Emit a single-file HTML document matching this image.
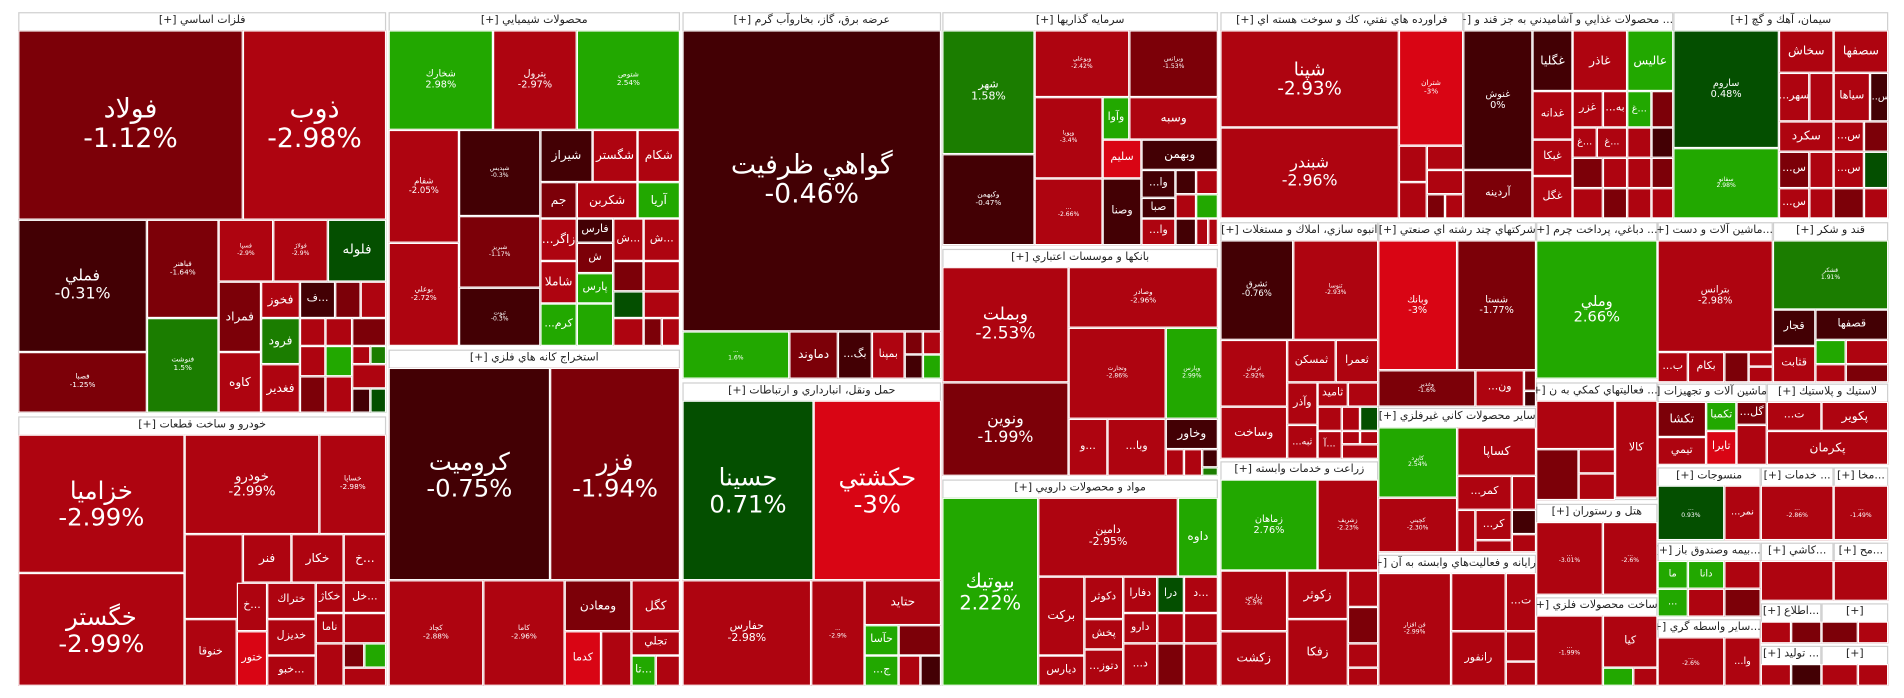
<!DOCTYPE html>
<html><head><meta charset="utf-8">
<style>
html,body{margin:0;padding:0;background:#fff;overflow:hidden;width:1904px;height:698px}
#wrap{position:absolute;left:0;top:0;width:1568px;height:575px;transform:scale(1.2143,1.2139);transform-origin:0 0}
.s{position:absolute;background:#fff;border:1px solid #cfcfcf;box-sizing:border-box}
.h{position:absolute;font:9px "DejaVu Sans",sans-serif;color:#222;text-align:center;direction:rtl;white-space:nowrap;overflow:hidden;line-height:15px}
.t{position:absolute;box-sizing:border-box;border:1px solid #fff;color:#fff;display:flex;align-items:center;justify-content:center;text-align:center;font-family:"DejaVu Sans",sans-serif;overflow:hidden;line-height:1.1;white-space:nowrap}
</style></head><body><div id="wrap"></div>
<script>
var C={R:'#ae0410',D:'#7c0008',K:'#430004',B:'#d90514',G:'#22a800',M:'#1b7d00',E:'#044f00'};
var S=[
[15,10,318,340,'فلزات اساسي [+]'],[15,343,318,565,'خودرو و ساخت قطعات [+]'],
[320,10,560,285,'محصولات شيميايي [+]'],[320,288,560,565,'استخراج كانه هاي فلزي [+]'],
[562,10,775,312,'عرضه برق، گاز، بخاروآب گرم [+]'],[562,315,775,565,'حمل ونقل، انبارداري و ارتباطات [+]'],
[776,10,1003,202,'سرمايه گذاريها [+]'],[776,205,1003,392,'بانكها و موسسات اعتباري [+]'],
[776,395,1003,565,'مواد و محصولات دارويي [+]'],[1005,10,1205,180,'فراورده هاي نفتي، كك و سوخت هسته اي [+]'],
[1205,10,1378,180,'... محصولات غذايي و آشاميدني به جز قند و [+]'],[1378,10,1555,180,'سيمان، آهك و گچ [+]'],
[1005,183,1135,378,'انبوه سازي، املاك و مستغلات [+]'],[1005,380,1135,565,'زراعت و خدمات وابسته [+]'],
[1135,183,1265,335,'شركتهاي چند رشته اي صنعتي [+]'],[1135,336,1265,455,'ساير محصولات كاني غيرفلزي [+]'],
[1135,457,1265,565,'رايانه و فعاليت‌هاي وابسته به آن [+]'],[1265,183,1365,312,'... دباغي، پرداخت چرم [+]'],
[1365,183,1460,315,'...ماشين آلات و دست [+]'],[1460,183,1555,315,'قند و شكر [+]'],
[1265,315,1365,412,'... فعاليتهاي كمكي به ن [+]'],[1265,415,1365,490,'هتل و رستوران [+]'],
[1265,492,1365,565,'ساخت محصولات فلزي [+]'],[1365,316,1455,383,'ماشين آلات و تجهيزات [+]'],
[1455,316,1555,383,'لاستيك و پلاستيك [+]'],[1365,385,1450,445,'منسوجات [+]'],
[1450,385,1510,445,'... خدمات [+]'],[1510,385,1555,445,'...مخا [+]'],
[1365,447,1450,508,'...بيمه وصندوق باز [+]'],[1450,447,1510,495,'...كاشي [+]'],
[1510,447,1555,495,'...مح [+]'],[1450,497,1500,530,'...اطلاع [+]'],
[1365,510,1450,565,'...ساير واسطه گري [+]'],[1450,532,1500,565,'... توليد [+]'],
[1500,497,1555,530,'[+]'],[1500,532,1555,565,'[+]']
];
var T=[
[15,25,200,181,'D','فولاد\n-1.12%',22],[200,25,318,181,'R','ذوب\n-2.98%',22],
[15,181,121,290,'K','فملي\n-0.31%',13],[15,290,121,340,'D','فصبا\n-1.25%',6],
[121,181,180,262,'D','فباهنر\n-1.64%',6],[121,262,180,340,'M','فنوشت\n1.5%',6],
[180,181,225,232,'R','فسپا\n-2.9%',5],[225,181,270,232,'R','فولاژ\n-2.9%',5],[270,181,318,232,'E','فلوله',11],
[180,232,215,290,'D','فمراد',10],[215,232,247,262,'R','فخوز',10],[247,232,276,262,'K','ف...',9],[276,232,297,262,'D',''],[297,232,318,262,'R',''],
[180,290,215,340,'R','كاوه',10],[215,262,247,300,'M','فرود',10],[215,300,247,340,'R','فغدير',10],
[247,262,268,285,'R',''],[268,262,290,285,'R',''],[290,262,318,285,'D',''],[247,285,268,310,'R',''],[268,285,290,310,'G',''],[290,285,305,300,'R',''],[305,285,318,300,'M',''],[290,300,318,320,'R',''],[247,310,268,340,'D',''],[268,310,290,340,'R',''],[290,320,305,340,'K',''],[305,320,318,340,'E',''],
[15,358,152,472,'R','خزاميا\n-2.99%',20],[15,472,152,565,'R','خگستر\n-2.99%',20],
[152,358,263,440,'R','خودرو\n-2.99%',11],[263,358,318,440,'R','خساپا\n-2.98%',6],
[152,440,200,510,'R',''],[200,440,240,480,'R','فنر',10],[240,440,283,480,'R','خكار',10],[283,440,318,480,'R','خ...',10],
[152,510,195,565,'R','خنوقا',9],[195,480,220,520,'R','خ...',9],[220,480,260,510,'R','ختراك',9],[260,480,283,505,'R','خكاژ',9],[283,480,318,505,'R','خل...',9],
[220,510,260,540,'R','خديزل',9],[260,505,283,530,'R','ناما',9],[283,505,318,530,'R',''],[220,540,260,565,'R','خبو...',9],[195,520,220,565,'B','ختور',9],[260,530,283,565,'R',''],[283,530,300,550,'D',''],[300,530,318,550,'G',''],[283,550,318,565,'R',''],
[320,25,406,107,'G','شخارك\n2.98%',8],[406,25,475,107,'R','پترول\n-2.97%',8],[475,25,560,107,'G','شتوص\n2.54%',6],
[320,107,378,200,'R','شفام\n-2.05%',7],[320,200,378,285,'R','بوعلي\n-2.72%',6],
[378,107,445,178,'K','شپديس\n-0.3%',5],[378,178,445,237,'D','شبريز\n-1.17%',5],[378,237,445,285,'K','ثبوت\n-0.3%',5],
[445,107,488,150,'K','شيراز',10],[488,107,525,150,'R','شگستر',10],[525,107,560,150,'R','شكام',10],
[445,150,475,180,'D','جم',10],[475,150,525,180,'R','شكربن',10],[525,150,560,180,'G','آريا',10],
[445,180,475,215,'R','...زاگر',10],[475,180,505,200,'K','فارس',9],[505,180,530,215,'R','ش...',9],[530,180,560,215,'R','ش...',9],
[445,215,475,250,'R','شاملا',10],[475,200,505,225,'D','ش',9],[475,225,505,250,'G','پارس',9],[505,215,530,240,'D',''],[530,215,560,240,'R',''],[505,240,530,262,'E',''],[530,240,560,262,'R',''],
[445,250,475,285,'G','...كرم',9],[475,250,505,285,'G',''],[505,262,530,285,'R',''],[530,262,545,285,'D',''],[545,262,560,285,'R',''],
[320,303,453,478,'K','كروميت\n-0.75%',20],[453,303,560,478,'D','فزر\n-1.94%',20],
[320,478,398,565,'R','كچاد\n-2.88%',6],[398,478,465,565,'R','كاما\n-2.96%',6],
[465,478,520,520,'D','ومعادن',10],[520,478,560,520,'R','كگل',10],[465,520,495,565,'B','كدما',9],[495,520,520,565,'R',''],[520,520,560,540,'R','تجلي',9],[520,540,540,565,'G','تا...',9],[540,540,560,565,'R',''],
[562,25,775,273,'K','گواهي ظرفيت\n-0.46%',22],
[562,273,650,312,'G','...\n1.6%',5],[650,273,690,312,'D','دماوند',10],[690,273,718,312,'K','...بگ',9],[718,273,745,312,'R','بمپنا',9],[745,273,760,292,'D',''],[760,273,775,292,'R',''],[745,292,760,312,'K',''],[760,292,775,312,'G',''],
[562,330,670,478,'E','حسينا\n0.71%',20],[670,330,775,478,'B','حكشتي\n-3%',20],
[562,478,668,565,'R','حفارس\n-2.98%',9],[668,478,712,565,'R','...\n-2.9%',5],[712,478,775,515,'R','حتايد',10],
[712,515,740,540,'G','حآسا',9],[740,515,775,540,'D',''],[712,540,740,565,'G','...ج',9],[740,540,758,565,'R',''],[758,540,775,565,'K',''],
[776,25,852,127,'M','شهر\n1.58%',9],[776,127,852,202,'K','وكبهمن\n-0.47%',6],
[852,25,930,80,'R','وبوعلي\n-2.42%',5],[930,25,1003,80,'D','وبرانس\n-1.53%',5],
[852,80,908,147,'R','وپويا\n-3.4%',5],[908,80,930,115,'G','وآوا',9],[930,80,1003,115,'R','وسبه',10],
[908,115,940,147,'B','سليم',9],[940,115,1003,140,'K','وبهمن',10],
[852,147,908,202,'R','...\n-2.66%',5],[908,147,940,202,'K','وصنا',9],[940,140,968,163,'K','...وا',9],[940,163,968,180,'K','صبا',9],[940,180,968,202,'R','...وا',9],
[968,140,985,160,'K',''],[985,140,1003,160,'R',''],[968,160,985,180,'R',''],[985,160,1003,180,'G',''],[968,180,985,202,'K',''],[985,180,995,202,'R',''],[995,180,1003,202,'R',''],
[776,220,880,315,'R','وبملت\n-2.53%',14],[776,315,880,392,'D','ونوين\n-1.99%',13],
[880,220,1003,270,'R','وصادر\n-2.96%',6],[880,270,960,345,'R','وتجارت\n-2.86%',5],[960,270,1003,345,'G','وپارس\n2.99%',5],
[880,345,912,392,'R','و...',9],[912,345,960,392,'R','...وبا',9],[960,345,1003,370,'K','وخاور',10],[960,370,975,392,'R',''],[975,370,990,392,'R',''],[990,370,1003,385,'K',''],[990,385,1003,392,'M',''],
[776,410,855,565,'G','بيوتيك\n2.22%',16],[855,410,970,475,'R','دامين\n-2.95%',9],[970,410,1003,475,'G','داوه',10],
[855,475,893,540,'R','بركت',10],[893,475,925,510,'R','دكوثر',9],[925,475,953,505,'R','دفارا',9],[953,475,975,505,'E','درا',9],[975,475,1003,505,'R','د...',9],
[893,510,925,535,'R','پخش',9],[925,505,953,530,'R','دارو',9],[953,505,975,530,'R',''],[975,505,1003,530,'R',''],
[855,540,893,565,'R','ديارس',9],[893,535,925,565,'R','...دتوز',9],[925,530,953,565,'R','...د',9],[953,530,975,565,'D',''],[975,530,1003,565,'R',''],
[1005,25,1152,105,'R','شپنا\n-2.93%',15],[1005,105,1152,180,'R','شبندر\n-2.96%',13],
[1152,25,1205,120,'B','شتران\n-3%',6],[1152,120,1175,150,'R',''],[1175,120,1205,140,'R',''],[1175,140,1205,160,'R',''],[1152,150,1175,180,'R',''],[1175,160,1190,180,'D',''],[1190,160,1205,180,'R',''],
[1205,25,1262,140,'K','غنوش\n0%',8],[1205,140,1262,180,'D','آردينه',9],
[1262,25,1295,75,'K','غگليا',10],[1295,25,1340,75,'R','غاذر',10],[1340,25,1378,75,'G','عاليس',10],
[1262,75,1295,115,'R','غدانه',9],[1295,75,1320,105,'R','غزر',9],[1320,75,1340,105,'R','...به',9],[1340,75,1360,105,'G','غ...',8],[1360,75,1378,105,'D',''],
[1262,115,1295,145,'R','غبكا',9],[1262,145,1295,180,'R','غگل',9],[1295,105,1315,130,'R','غ...',8],[1315,105,1340,130,'R','غ...',8],[1340,105,1360,130,'R',''],[1360,105,1378,130,'K',''],
[1295,130,1320,155,'D',''],[1320,130,1340,155,'R',''],[1340,130,1360,155,'R',''],[1360,130,1378,155,'D',''],[1295,155,1320,180,'R',''],[1320,155,1340,180,'D',''],[1340,155,1360,180,'R',''],[1360,155,1378,180,'R',''],
[1378,25,1465,122,'E','ساروم\n0.48%',8],[1378,122,1465,180,'G','سفانو\n2.98%',5],
[1465,25,1510,60,'R','سخاش',10],[1510,25,1555,60,'R','سصفها',10],
[1465,60,1490,100,'R','...سهر',9],[1490,60,1510,100,'R',''],[1510,60,1540,100,'R','سياها',9],[1540,60,1555,100,'K','...س',8],
[1465,100,1510,125,'R','سكرد',10],[1510,100,1535,125,'R','...س',9],[1535,100,1555,125,'D',''],
[1465,125,1490,155,'D','...س',9],[1490,125,1510,155,'R',''],[1510,125,1535,155,'R','...س',9],[1535,125,1555,155,'E',''],
[1465,155,1490,180,'R','...س',9],[1490,155,1510,180,'R',''],[1510,155,1535,180,'D',''],[1535,155,1555,180,'R',''],
[1005,198,1065,280,'K','ثشرق\n-0.76%',7],[1065,198,1135,280,'R','ثنوسا\n-2.93%',5],
[1005,280,1060,335,'R','ثرمان\n-2.92%',5],[1005,335,1060,378,'R','وساخت',10],
[1060,280,1100,315,'R','ثمسكن',9],[1100,280,1135,315,'R','ثعمرا',9],
[1060,315,1085,350,'R','وآذر',9],[1085,315,1110,335,'R','ثاميد',9],[1110,315,1135,335,'R',''],
[1060,350,1085,378,'R','...ثبه',8],[1085,335,1105,355,'R',''],[1105,335,1120,355,'R',''],[1120,335,1135,355,'E',''],[1085,355,1105,378,'R','آ...',8],[1105,355,1120,366,'R',''],[1120,355,1135,366,'R',''],[1105,366,1135,378,'R',''],
[1005,395,1085,470,'G','زماهان\n2.76%',8],[1085,395,1135,470,'R','زشريف\n-2.23%',5],
[1005,470,1060,520,'R','زپارس\n-2.9%',5],[1005,520,1060,565,'R','زكشت',10],[1060,470,1110,510,'R','زكوثر',10],[1060,510,1110,565,'R','زفكا',10],
[1110,470,1135,500,'R',''],[1110,500,1135,530,'D',''],[1110,530,1135,550,'R',''],[1110,550,1135,565,'R',''],
[1135,198,1200,305,'B','وبانك\n-3%',8],[1200,198,1265,305,'D','شستا\n-1.77%',8],
[1135,305,1215,335,'D','وغدير\n-1.6%',5],[1215,305,1255,335,'R','...ون',9],[1255,305,1265,322,'D',''],[1255,322,1265,335,'K',''],
[1135,352,1200,410,'G','كاپرد\n2.54%',5],[1200,352,1265,392,'R','كساپا',10],
[1135,410,1200,455,'R','كچيني\n-2.30%',5],[1200,392,1245,420,'R','...كمر',9],[1245,392,1265,420,'R',''],
[1200,420,1215,455,'R',''],[1215,420,1245,445,'R','...كر',9],[1245,420,1265,440,'K',''],[1245,440,1265,455,'R',''],[1215,445,1245,455,'R',''],
[1135,472,1195,565,'R','فن افزار\n-2.99%',5],[1195,472,1240,520,'R',''],[1240,472,1265,520,'R','...ت',9],[1195,520,1240,565,'R','رانفور',9],[1240,520,1265,545,'R',''],[1240,545,1265,565,'R',''],
[1265,198,1365,312,'G','وملي\n2.66%',12],
[1265,330,1330,370,'R',''],[1330,330,1365,410,'R','كالا',9],[1265,370,1300,412,'D',''],[1300,370,1330,390,'R',''],[1300,390,1330,412,'R',''],
[1265,430,1320,490,'R','...\n-3.01%',5],[1320,430,1365,490,'R','...\n-2.6%',5],
[1265,507,1320,565,'R','...\n-1.99%',5],[1320,507,1365,550,'R','كيا',9],[1320,550,1345,565,'G',''],[1345,550,1365,565,'R',''],
[1365,198,1460,290,'R','بترانس\n-2.98%',8],[1365,290,1390,315,'R','...ب',9],[1390,290,1420,315,'R','بكام',9],[1420,290,1440,315,'D',''],[1440,290,1460,302,'R',''],[1440,302,1460,315,'R',''],
[1460,198,1555,255,'M','قشكر\n1.91%',5],[1460,255,1495,285,'K','قجار',9],[1495,255,1555,280,'K','قصفها',9],[1460,285,1495,315,'R','قثابت',9],[1495,280,1520,300,'G',''],[1520,280,1555,300,'R',''],[1495,300,1520,315,'R',''],[1520,300,1555,315,'D',''],
[1365,331,1405,360,'D','تكشا',10],[1405,331,1430,355,'G','تكمبا',9],[1430,331,1455,350,'D','...گل',9],[1430,350,1455,383,'R',''],[1365,360,1405,383,'R','تيمي',9],[1405,355,1430,383,'B','تايرا',9],
[1455,331,1500,355,'R','...ت',9],[1500,331,1555,355,'R','پكوير',10],[1455,355,1555,383,'R','پكرمان',10],
[1365,400,1420,445,'E','...\n0.93%',5],[1420,400,1450,445,'R','...نمر',8],
[1450,400,1510,445,'R','...\n-2.86%',5],[1510,400,1555,445,'R','...\n-1.49%',5],
[1365,462,1390,485,'G','ما',8],[1390,462,1420,485,'G','دانا',8],[1420,462,1450,485,'R',''],[1365,485,1390,508,'G','...',8],[1390,485,1420,508,'R',''],[1420,485,1450,508,'D',''],
[1450,462,1510,495,'R','',8],[1510,462,1555,495,'R','',8],
[1450,512,1475,530,'R',''],[1475,512,1500,530,'D',''],
[1365,525,1420,565,'R','...\n-2.6%',5],[1420,525,1450,565,'R','...وا',8],
[1450,547,1475,565,'R',''],[1475,547,1500,565,'K',''],
[1500,512,1530,530,'D',''],[1530,512,1555,530,'R',''],[1500,547,1530,565,'R',''],[1530,547,1555,565,'R','']
];
var w=document.getElementById('wrap'),h='';
S.forEach(function(s){var W=s[2]-s[0],H=s[3]-s[1];
h+='<div class="s" style="left:'+s[0]+'px;top:'+s[1]+'px;width:'+W+'px;height:'+H+'px"></div>';
h+='<div class="h" style="left:'+s[0]+'px;top:'+s[1]+'px;width:'+W+'px;height:15px">'+s[4]+'</div>';});
T.forEach(function(t){var W=t[2]-t[0],H=t[3]-t[1];
h+='<div class="t" style="left:'+t[0]+'px;top:'+t[1]+'px;width:'+W+'px;height:'+H+'px;background:'+C[t[4]]+';font-size:'+(t[6]||9)+'px">'+(t[5]||'').replace('\n','<br>')+'</div>';});
w.innerHTML=h;
</script></body></html>
